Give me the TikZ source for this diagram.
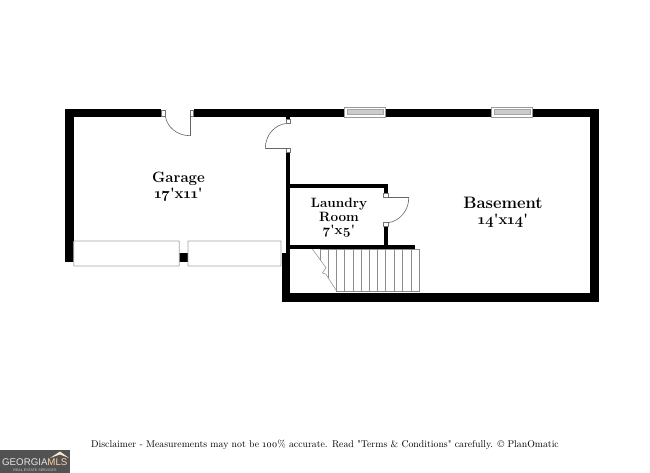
\documentclass[tikz,border=0pt]{standalone}
\usepackage{fontspec}
\setmainfont[Numbers=OldStyle,Ligatures=TeXOff]{Latin Modern Roman}
\newfontfamily\logofont{Liberation Sans}
\tikzset{
  wall/.style={fill=black,draw=none},
  thinline/.style={draw=black!60,line width=0.6pt},
  panel/.style={draw=black!35,line width=0.8pt,fill=white,rounded corners=0.5pt},
  jamb/.style={draw=black!55,line width=0.5pt,fill=white},
  tread/.style={draw=black!45,line width=0.5pt},
  room/.style={font=\bfseries\fontsize{15}{15}\selectfont,inner sep=0pt,anchor=center},
  lroom/.style={font=\bfseries\fontsize{13.5}{13.5}\selectfont,inner sep=0pt,anchor=center},
}
\begin{document}
\begin{tikzpicture}[x=1pt,y=-1pt]
\useasboundingbox (0,0) rectangle (650,473);
\fill[white] (0,0) rectangle (650,473);
% outer walls
\fill[wall] (65.3,109) rectangle (161,117.3);
\fill[wall] (65.3,109) rectangle (73.7,262);
\fill[wall] (193.7,109) rectangle (599,117.3);
\fill[wall] (590.3,109) rectangle (599,301.7);
\fill[wall] (281.7,293.3) rectangle (599,301.7);
\fill[wall] (281.7,253) rectangle (290.2,301.7);
\fill[wall] (286.3,117) rectangle (290.3,119.5);
\fill[wall] (286.3,148) rectangle (290.3,253);
\fill[wall] (179.3,253.3) rectangle (188,262);
% laundry walls
\fill[wall] (290,184) rectangle (388.3,188.3);
\fill[wall] (383.7,184) rectangle (388.3,193.3);
\fill[wall] (383.7,226.7) rectangle (388.3,245);
\fill[wall] (290,245) rectangle (415,249);
% garage door panels
\draw[panel] (73.7,241) rectangle (179.3,266);
\draw[panel] (188,241) rectangle (281,266);
% garage entry door
\draw[jamb] (161,110.5) rectangle (165.3,116);
\draw[jamb] (190,110.5) rectangle (193.7,116);
\draw[thinline] (190,115) -- (190,135.7);
\draw[thinline] (190,135.7) .. controls (177,135.7) and (167,127) .. (165.3,116);
% basement door
\draw[jamb] (286.3,119.5) rectangle (290.3,123.5);
\draw[jamb] (286.3,148.3) rectangle (290.3,152.5);
\draw[thinline] (288,148.3) -- (265.3,148.3);
\draw[thinline] (265.3,148.3) .. controls (265.3,135) and (275,124.5) .. (286.3,123.5);
% laundry door
\draw[jamb] (383.7,193.3) rectangle (388.3,197.7);
\draw[jamb] (383.7,222.7) rectangle (388.3,226.7);
\draw[thinline] (388.3,197.7) -- (408.7,197.7);
\draw[thinline] (408.7,197.7) .. controls (409,210) and (400,221) .. (388.3,222.7);
% windows
\foreach \xa/\xb in {344.3/385.7,491.3/532.3}{
  \draw[jamb,draw=black!40] (\xa,107.3) rectangle (\xb,117);
  \fill[black!20] (\xa+2.5,109.3) rectangle (\xb-2.5,114.3);
  \draw[black!35,line width=0.3pt] (\xa+2.5,109.3) rectangle (\xb-2.5,114.3);
}
% stairs
\draw[tread] (320.3,249) -- (419.3,249) -- (419.3,291.7) -- (337.3,291.7);
\draw[tread] (312.3,249) -- (326,267.7) -- (322.3,273) -- (325.7,274) -- (337.3,292);
\draw[tread] (320.3,249) -- (320.3,260);
\draw[tread] (328.7,249) -- (328.7,278);
\foreach \x in {336.7,344.7,353,361,369.3,377.7,385.7,394.3,402.7,411}{
  \draw[tread] (\x,249) -- (\x,291.7);
}
% labels
\node[room] (garage) at (178.5,179) {Garage};
\node[room] (garagesize) at (178.5,195) {17'x11'};
\node[lroom] (laundry) at (339,204) {Laundry};
\node[lroom] (roomname) at (339,217) {Room};
\node[lroom] (laundrysize) at (339,231) {7'x5'};
\node[room,font=\bfseries\fontsize{16.6}{16.6}\selectfont] (basement) at (503,203) {Basement};
\node[room] (basementsize) at (503,221) {14'x14'};
\node[inner sep=0pt,font=\fontsize{9.8}{9.8}\selectfont] (disclaimer) at (325,445) {Disclaimer - Measurements may not be 100\% accurate. Read "Terms \& Conditions" carefully. © PlanOmatic};
% logo
\fill[black!68] (0,449.5) rectangle (70,473);
\fill[white!80!orange] (50,458) -- (60,451.5) -- (69,458) -- (60,454.5) -- cycle;
\node[inner sep=0pt,anchor=west,text=white!90!black,font=\logofont\fontsize{9.7}{9.7}\selectfont] (logomain) at (2,462) {GEORGIA\textcolor{white!65!orange}{MLS}};
\node[inner sep=0pt,text=white!80!black,font=\logofont\fontsize{3.6}{3.6}\selectfont] (logosub) at (35,470) {REAL ESTATE SERVICES};
\end{tikzpicture}
\end{document}
